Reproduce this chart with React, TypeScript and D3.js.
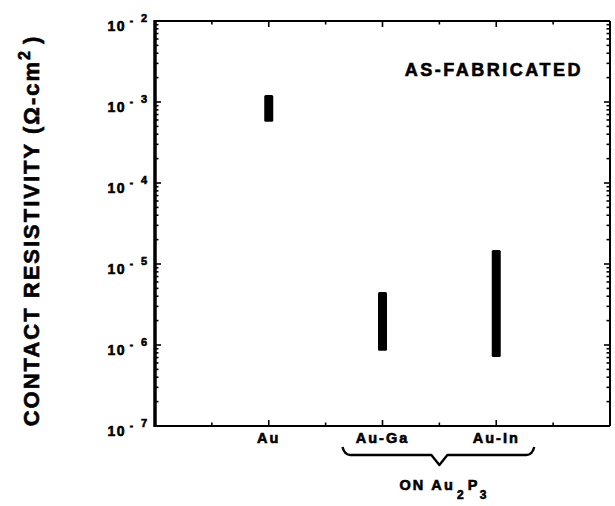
import React from 'react';
import * as d3 from 'd3';

// contact resistivity ranges (ohm-cm^2)
const categories = ['Au', 'Au-Ga', 'Au-In'];
const lowValues = [5.7e-4, 8.5e-7, 7.1e-7];
const highValues = [1.22e-3, 4.5e-6, 1.49e-5];
const yDecades = [-7, -6, -5, -4, -3, -2];
const noteText = 'AS-FABRICATED';

const W = 615;
const H = 506;
const margin = { top: 21, right: 5, bottom: 80, left: 155 };
const FONT = '"Liberation Sans", Arial, Helvetica, sans-serif';

export default function App() {
  const x0 = margin.left;
  const x1 = W - margin.right;
  const yTop = margin.top;
  const yBot = H - margin.bottom;

  const x = d3.scalePoint<string>().domain(categories).range([x0, x1]).padding(1);
  const y = d3.scaleLog().domain([1e-7, 1e-2]).range([yBot, yTop]);

  const half = x.step() / 2;
  const xTicks = d3.range(1, 8).map(k => ({ pos: x0 + k * half, major: k % 2 === 0 }));
  const yTicks = y.ticks().map(v => ({ v, major: Math.abs(Math.log10(v) - Math.round(Math.log10(v))) < 1e-6 }));

  // brace under the two alloy contacts
  const bL = (x('Au-Ga') as number) - 40;
  const bR = (x('Au-In') as number) + 38;
  const bM = ((x('Au-Ga') as number) + (x('Au-In') as number)) / 2;
  const braceTop = yBot + 21;
  const braceMid = yBot + 29;
  const braceTip = yBot + 39;
  const brace = `M${bL},${braceTop} Q${bL + 2},${braceMid} ${bL + 8},${braceMid} L${bM - 8},${braceMid} L${bM},${braceTip} L${bM + 8},${braceMid} L${bR - 8},${braceMid} Q${bR - 2},${braceMid} ${bR},${braceTop}`;

  const heavy = { stroke: '#000', strokeWidth: 0.6 };

  return (
    <svg width={W} height={H} style={{ position: 'absolute', left: 0, top: 0, background: '#fff' }} fontFamily={FONT} fontWeight="bold">
      {/* frame */}
      <line x1={x0} x2={x0} y1={yTop - 1} y2={yBot + 1} stroke="#000" strokeWidth={3.5} />
      <line x1={x0} x2={x1} y1={yTop} y2={yTop} stroke="#000" strokeWidth={2.2} />
      <line x1={x0} x2={x1} y1={yBot} y2={yBot} stroke="#000" strokeWidth={2.2} />
      <line x1={x1} x2={x1} y1={yTop} y2={yBot} stroke="#000" strokeWidth={2} />

      {/* y ticks, both sides, pointing inward */}
      {yTicks.map((t, i) => (
        <g key={'yt' + i}>
          <line x1={x0} x2={x0 + (t.major ? 6 : 3.5)} y1={y(t.v)} y2={y(t.v)} stroke="#000" strokeWidth={1.6} />
          <line x1={x1} x2={x1 - (t.major ? 6 : 3.5)} y1={y(t.v)} y2={y(t.v)} stroke="#000" strokeWidth={1.6} />
        </g>
      ))}

      {/* x ticks, top and bottom */}
      {xTicks.map((t, i) => (
        <g key={'xt' + i}>
          <line x1={t.pos} x2={t.pos} y1={yBot} y2={yBot - (t.major ? 6 : 3.5)} stroke="#000" strokeWidth={1.6} />
          <line x1={t.pos} x2={t.pos} y1={yTop} y2={yTop + (t.major ? 6 : 3.5)} stroke="#000" strokeWidth={1.6} />
        </g>
      ))}

      {/* y tick labels */}
      {yDecades.map(d => {
        const yy = y(Math.pow(10, d));
        return (
          <g key={'yl' + d} {...heavy}>
            <text x={x0 - 29} y={yy + 9.5} fontSize={14} textAnchor="end" letterSpacing={1.5}>10</text>
            <text x={x0 - 22} y={yy + 3} fontSize={10} textAnchor="end">-</text>
            <text x={x0 - 8} y={yy + 1} fontSize={11} textAnchor="end">{Math.abs(d)}</text>
          </g>
        );
      })}

      {/* range bars */}
      {categories.map((c, i) => {
        const top = y(highValues[i]);
        const bot = y(lowValues[i]);
        return (
          <rect key={'b' + c} x={(x(c) as number) - 4.5} y={top} width={9} height={bot - top} rx={1.5} fill="#000" />
        );
      })}

      {/* category labels */}
      {categories.map(c => (
        <text key={'c' + c} x={x(c) as number} y={yBot + 16.5} fontSize={14.5} textAnchor="middle" letterSpacing={2} {...heavy}>{c}</text>
      ))}

      <path d={brace} fill="none" stroke="#000" strokeWidth={2.4} strokeLinejoin="round" />

      <text x={bM - 40} y={yBot + 64} fontSize={14.5} letterSpacing={2.2} {...heavy}>
        ON Au
        <tspan dy={9} dx={2} fontSize={12}>2</tspan>
        <tspan dy={-9} dx={2}>P</tspan>
        <tspan dy={9} fontSize={12}>3</tspan>
      </text>

      <text x={x1 - 27} y={yTop + 55} fontSize={18} textAnchor="end" letterSpacing={2.5} {...heavy}>{noteText}</text>

      {/* y axis title */}
      <text transform={`translate(39,${(yTop + yBot) / 2 + 7}) rotate(-90)`} fontSize={22} textAnchor="middle" letterSpacing={2} {...heavy}>
        CONTACT RESISTIVITY (Ω-cm
        <tspan dy={-9} fontSize={16}>2</tspan>
        <tspan dy={9} dx={5}>)</tspan>
      </text>
    </svg>
  );
}
